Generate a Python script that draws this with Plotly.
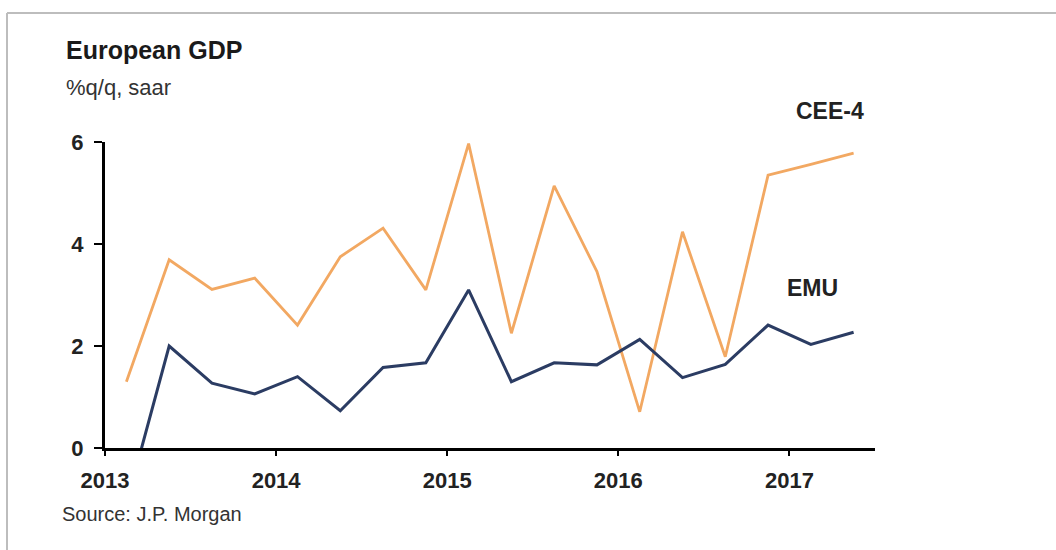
import plotly.graph_objects as go

quarters = ["2013Q1", "2013Q2", "2013Q3", "2013Q4",
            "2014Q1", "2014Q2", "2014Q3", "2014Q4",
            "2015Q1", "2015Q2", "2015Q3", "2015Q4",
            "2016Q1", "2016Q2", "2016Q3", "2016Q4",
            "2017Q1", "2017Q2"]
cee4 = [1.30, 3.69, 3.11, 3.33, 2.41, 3.75, 4.31, 3.10, 5.97,
        2.25, 5.14, 3.46, 0.71, 4.24, 1.79, 5.35, 5.56, 5.78]
emu = [-1.10, 2.00, 1.27, 1.06, 1.40, 0.73, 1.58, 1.67, 3.10,
       1.30, 1.67, 1.63, 2.13, 1.38, 1.64, 2.41, 2.03, 2.27]
year_ticks = [2013, 2014, 2015, 2016, 2017]
y_ticks = [0, 2, 4, 6]

# mid-quarter positions on a continuous year axis
x = [int(q[:4]) + (int(q[-1]) - 0.5) / 4 for q in quarters]

ORANGE = "#F2A862"
NAVY = "#2B3C63"
SANS = "Liberation Sans, Arial, sans-serif"

fig = go.Figure()
fig.add_trace(go.Scatter(x=x, y=cee4, mode="lines", name="CEE-4",
                         line=dict(color=ORANGE, width=2.8)))
fig.add_trace(go.Scatter(x=x, y=emu, mode="lines", name="EMU",
                         line=dict(color=NAVY, width=3)))

L, R, T, B = 105, 181, 142, 102
W, H = 1056, 550
pw, ph = W - L - R, H - T - B

def px(xp):
    return (xp - L) / pw

def py(yp):
    return (H - B - yp) / ph

tickfont = dict(family=SANS, size=22, color="#222222", weight="bold")

fig.update_layout(
    width=W, height=H,
    margin=dict(l=L, r=R, t=T, b=B, pad=0),
    paper_bgcolor="white", plot_bgcolor="white",
    showlegend=False,
    xaxis=dict(range=[2013, 2017.5], tickvals=year_ticks,
               ticktext=[str(v) for v in year_ticks],
               showgrid=False, zeroline=False,
               showline=True, linecolor="black", linewidth=3,
               ticks="outside", ticklen=5, tickwidth=2, tickcolor="black",
               tickfont=tickfont, ticklabelstandoff=6),
    yaxis=dict(range=[0, 6], tickvals=y_ticks,
               showgrid=False, zeroline=False,
               showline=True, linecolor="black", linewidth=3,
               ticks="outside", ticklen=8, tickwidth=2, tickcolor="black",
               tickfont=tickfont, ticklabelstandoff=6),
)

annotations = [
    dict(text="<b>European GDP</b>", x=px(64), y=py(50),
         font=dict(family=SANS, size=25, color="#1a1a1a")),
    dict(text="%q/q, saar", x=px(64), y=py(87),
         font=dict(family=SANS, size=22, color="#333333")),
    dict(text="Source: J.P. Morgan", x=px(60), y=py(514),
         font=dict(family=SANS, size=20, color="#333333")),
    dict(text="<b>CEE-4</b>", x=px(794), y=py(111),
         font=dict(family=SANS, size=23, color="#222222")),
    dict(text="<b>EMU</b>", x=px(785), y=py(288),
         font=dict(family=SANS, size=23, color="#222222")),
]
for a in annotations:
    a.update(xref="paper", yref="paper", xanchor="left", yanchor="middle",
             showarrow=False)
fig.update_layout(annotations=annotations)

fig.update_layout(shapes=[
    dict(type="line", xref="paper", yref="paper",
         x0=px(7), x1=px(W + 5), y0=py(13), y1=py(13),
         line=dict(color="#BDBDBD", width=2)),
    dict(type="line", xref="paper", yref="paper",
         x0=px(7), x1=px(7), y0=py(13), y1=py(H + 5),
         line=dict(color="#BDBDBD", width=2)),
])

fig.write_html("out.html")
